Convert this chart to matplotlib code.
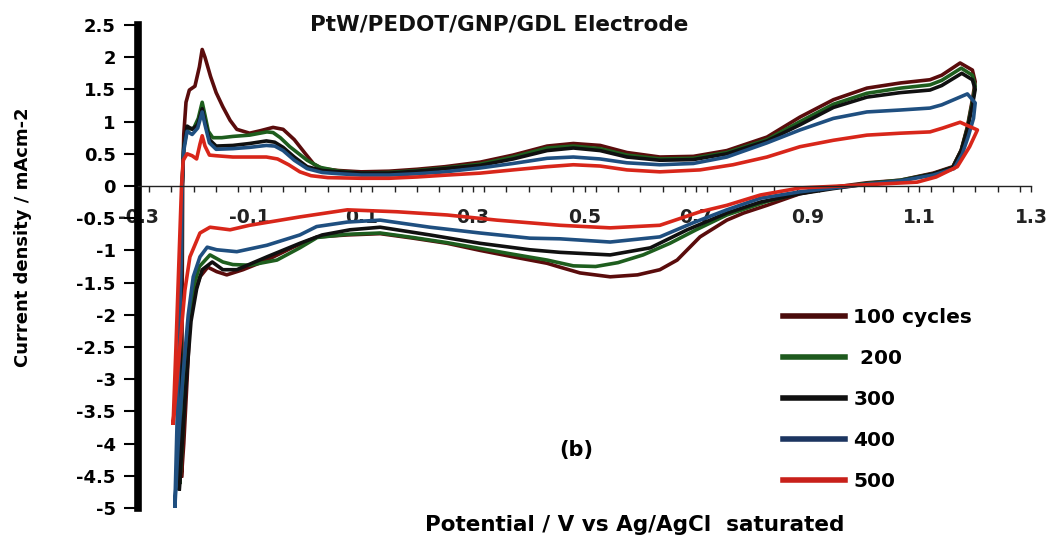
import matplotlib
matplotlib.use("Agg")
import matplotlib.pyplot as plt
from matplotlib.ticker import MultipleLocator, FixedLocator

plt.rcParams['font.family'] = ['DejaVu Sans']

# ---- data ----
labels = ["100 cycles", " 200", "300", "400", "500"]
colors = ["#5a0c0c", "#1e5e1e", "#101010", "#1f4f80", "#d8261a"]
legend_colors = ["#4a0b0b", "#1e5a1e", "#101010", "#1c3560", "#c8201a"]

x100 = [-0.222, -0.221, -0.220, -0.218, -0.214, -0.208, -0.198, -0.190, -0.185, -0.180, -0.170, -0.160,
        -0.148, -0.135, -0.123, -0.100, -0.080, -0.058, -0.040, -0.020, 0.000, 0.015, 0.030, 0.060, 0.100,
        0.150, 0.200, 0.250, 0.313, 0.372, 0.433, 0.480, 0.528, 0.576, 0.635, 0.695, 0.755, 0.827, 0.886,
        0.946, 1.006, 1.066, 1.119, 1.140, 1.173, 1.195, 1.200,
        1.195, 1.186, 1.175, 1.160, 1.125, 1.066, 1.006, 0.946, 0.886, 0.827, 0.785, 0.755, 0.707, 0.666,
        0.635, 0.595, 0.546, 0.492, 0.456, 0.433, 0.372, 0.313, 0.254, 0.193, 0.134, 0.075, 0.021, -0.022,
        -0.069, -0.112, -0.141, -0.159, -0.175, -0.189, -0.201, -0.207, -0.212, -0.218, -0.222]
y100 = [-4.50, -2.00, 0.00, 0.80, 1.30, 1.49, 1.55, 1.85, 2.12, 2.00, 1.70, 1.45,
        1.23, 1.02, 0.88, 0.82, 0.86, 0.91, 0.88, 0.72, 0.50, 0.34, 0.27, 0.24, 0.22,
        0.23, 0.26, 0.30, 0.37, 0.48, 0.62, 0.66, 0.63, 0.52, 0.45, 0.46, 0.55, 0.76, 1.07,
        1.34, 1.52, 1.60, 1.65, 1.72, 1.91, 1.80, 1.62,
        1.34, 0.92, 0.56, 0.30, 0.20, 0.09, 0.05, -0.02, -0.12, -0.30, -0.42, -0.53, -0.79, -1.15,
        -1.30, -1.38, -1.41, -1.35, -1.26, -1.20, -1.10, -1.00, -0.89, -0.81, -0.74, -0.76, -0.79, -0.95,
        -1.15, -1.30, -1.38, -1.33, -1.26, -1.41, -1.72, -2.08, -3.00, -4.00, -4.50]

x200 = [-0.225, -0.223, -0.221, -0.218, -0.212, -0.200, -0.192, -0.185, -0.180, -0.174, -0.166, -0.150,
        -0.130, -0.100, -0.069, -0.058, -0.045, -0.028, 0.003, 0.026, 0.060, 0.100, 0.150, 0.200, 0.250,
        0.313, 0.372, 0.433, 0.480, 0.528, 0.576, 0.635, 0.695, 0.755, 0.827, 0.886, 0.946, 1.006, 1.066,
        1.119, 1.140, 1.175, 1.195, 1.200,
        1.195, 1.186, 1.175, 1.160, 1.125, 1.066, 1.006, 0.946, 0.886, 0.827, 0.755, 0.700, 0.653, 0.605,
        0.560, 0.520, 0.480, 0.433, 0.372, 0.313, 0.254, 0.193, 0.134, 0.075, 0.021, -0.010, -0.051,
        -0.100, -0.130, -0.148, -0.171, -0.190, -0.200, -0.208, -0.215, -0.222, -0.225]
y200 = [-4.60, -2.00, 0.00, 0.60, 0.88, 0.90, 1.05, 1.30, 1.10, 0.85, 0.75, 0.75,
        0.77, 0.79, 0.84, 0.83, 0.75, 0.61, 0.40, 0.29, 0.23, 0.20, 0.21, 0.24, 0.28,
        0.34, 0.45, 0.59, 0.62, 0.58, 0.48, 0.42, 0.43, 0.52, 0.72, 1.00, 1.27, 1.44, 1.52,
        1.57, 1.64, 1.83, 1.72, 1.55,
        1.30, 0.90, 0.55, 0.29, 0.19, 0.09, 0.04, -0.03, -0.11, -0.24, -0.45, -0.68, -0.89, -1.07,
        -1.19, -1.25, -1.24, -1.15, -1.06, -0.97, -0.88, -0.80, -0.73, -0.75, -0.80, -0.96, -1.15,
        -1.23, -1.22, -1.18, -1.07, -1.25, -1.55, -2.00, -3.00, -4.20, -4.60]

x300 = [-0.226, -0.223, -0.221, -0.218, -0.212, -0.203, -0.193, -0.185, -0.180, -0.172, -0.160, -0.130,
        -0.100, -0.070, -0.055, -0.040, -0.020, 0.003, 0.030, 0.060, 0.100, 0.150, 0.200, 0.250, 0.313,
        0.372, 0.433, 0.480, 0.528, 0.576, 0.635, 0.695, 0.755, 0.827, 0.886, 0.946, 1.006, 1.066, 1.119,
        1.140, 1.176, 1.195, 1.200,
        1.195, 1.186, 1.175, 1.160, 1.125, 1.066, 1.006, 0.946, 0.886, 0.815, 0.755, 0.684, 0.618, 0.546,
        0.456, 0.402, 0.313, 0.223, 0.134, 0.080, 0.030, -0.010, -0.069, -0.123, -0.148, -0.167, -0.185,
        -0.195, -0.205, -0.215, -0.226]
y300 = [-4.70, -2.00, 0.00, 0.60, 0.93, 0.88, 0.95, 1.20, 1.00, 0.72, 0.62, 0.63,
        0.66, 0.70, 0.68, 0.60, 0.45, 0.30, 0.24, 0.22, 0.20, 0.20, 0.23, 0.27, 0.32,
        0.42, 0.55, 0.59, 0.55, 0.45, 0.40, 0.41, 0.50, 0.70, 0.95, 1.22, 1.38, 1.45, 1.49,
        1.56, 1.75, 1.65, 1.50,
        1.25, 0.88, 0.55, 0.29, 0.19, 0.08, 0.03, -0.04, -0.12, -0.25, -0.42, -0.68, -0.96, -1.07,
        -1.03, -0.99, -0.89, -0.76, -0.64, -0.68, -0.76, -0.89, -1.10, -1.30, -1.30, -1.18, -1.30,
        -1.60, -2.10, -3.20, -4.70]

x400 = [-0.234, -0.228, -0.222, -0.221, -0.218, -0.212, -0.203, -0.193, -0.185, -0.180, -0.172, -0.160,
        -0.130, -0.100, -0.070, -0.055, -0.040, -0.020, 0.003, 0.030, 0.060, 0.100, 0.150, 0.200, 0.250,
        0.313, 0.372, 0.433, 0.480, 0.528, 0.576, 0.635, 0.695, 0.755, 0.827, 0.886, 0.946, 1.006, 1.066,
        1.119, 1.140, 1.186, 1.200,
        1.197, 1.188, 1.177, 1.162, 1.125, 1.066, 1.006, 0.946, 0.886, 0.815, 0.755, 0.695, 0.635, 0.546,
        0.456, 0.402, 0.313, 0.223, 0.134, 0.075, 0.020, -0.010, -0.069, -0.123, -0.159, -0.176, -0.189,
        -0.201, -0.210, -0.220, -0.228, -0.234]
y400 = [-5.00, -3.00, -1.00, 0.00, 0.55, 0.85, 0.80, 0.90, 1.15, 0.95, 0.67, 0.57,
        0.58, 0.60, 0.63, 0.62, 0.55, 0.40, 0.27, 0.21, 0.19, 0.17, 0.17, 0.19, 0.22,
        0.28, 0.35, 0.43, 0.45, 0.42, 0.36, 0.33, 0.35, 0.45, 0.67, 0.87, 1.05, 1.15, 1.18,
        1.21, 1.26, 1.43, 1.29,
        1.05, 0.78, 0.50, 0.27, 0.17, 0.08, 0.03, -0.03, -0.09, -0.19, -0.37, -0.57, -0.79, -0.87,
        -0.82, -0.81, -0.73, -0.64, -0.53, -0.56, -0.63, -0.76, -0.92, -1.02, -0.99, -0.95, -1.10,
        -1.41, -2.00, -3.00, -4.00, -5.00]

x500 = [-0.237, -0.232, -0.226, -0.222, -0.219, -0.212, -0.203, -0.195, -0.189, -0.185, -0.180, -0.172,
        -0.160, -0.130, -0.100, -0.070, -0.050, -0.030, -0.010, 0.010, 0.040, 0.100, 0.150, 0.200, 0.254,
        0.313, 0.372, 0.433, 0.480, 0.528, 0.576, 0.635, 0.707, 0.766, 0.827, 0.886, 0.946, 1.006, 1.066,
        1.119, 1.142, 1.173, 1.204,
        1.190, 1.168, 1.130, 1.096, 1.006, 0.886, 0.815, 0.755, 0.707, 0.635, 0.546, 0.456, 0.343, 0.254,
        0.164, 0.075, -0.010, -0.100, -0.135, -0.171, -0.189, -0.207, -0.216, -0.225, -0.232, -0.237]
y500 = [-3.68, -2.50, -1.00, 0.00, 0.40, 0.50, 0.47, 0.42, 0.65, 0.78, 0.62, 0.48,
        0.47, 0.45, 0.45, 0.45, 0.42, 0.33, 0.22, 0.16, 0.13, 0.12, 0.12, 0.14, 0.17,
        0.20, 0.25, 0.30, 0.33, 0.31, 0.25, 0.22, 0.25, 0.33, 0.45, 0.61, 0.71, 0.79, 0.82,
        0.84, 0.90, 0.99, 0.87,
        0.61, 0.30, 0.14, 0.06, 0.02, -0.03, -0.14, -0.30, -0.40, -0.61, -0.65, -0.61, -0.53, -0.45,
        -0.40, -0.37, -0.48, -0.61, -0.68, -0.64, -0.73, -1.10, -1.62, -2.50, -3.20, -3.68]

xs = [x100, x200, x300, x400, x500]
ys = [y100, y200, y300, y400, y500]

x_ticks = [-0.3, -0.1, 0.1, 0.3, 0.5, 0.7, 0.9, 1.1, 1.3]
y_ticks = [-5, -4.5, -4, -3.5, -3, -2.5, -2, -1.5, -1, -0.5, 0, 0.5, 1, 1.5, 2, 2.5]

W, H = 1049, 540
fig = plt.figure(figsize=(W / 100, H / 100), dpi=100)
ax = fig.add_axes([138 / W, 1 - 508 / H, (1031 - 138) / W, (508 - 25) / H])

lines = []
for x, y, c, lab in zip(xs, ys, colors, labels):
    ln, = ax.plot(x, y, color=c, lw=2.6, solid_joinstyle='round', label=lab)
    lines.append(ln)

ax.set_xlim(-0.3, 1.3)
ax.set_ylim(-5, 2.5)

ax.spines['top'].set_visible(False)
ax.spines['right'].set_visible(False)
ax.spines['left'].set_linewidth(5.5)
ax.spines['left'].set_color('black')
ax.spines['bottom'].set_position(('data', 0))
ax.spines['bottom'].set_linewidth(1.0)
ax.spines['bottom'].set_color('#222222')

ax.xaxis.set_major_locator(FixedLocator(x_ticks))
ax.xaxis.set_minor_locator(MultipleLocator(0.04))
ax.set_xticklabels([f"{v:.1f}" for v in x_ticks])
ax.tick_params(axis='x', which='both', direction='out', length=4, width=1, color='#222222')
ax.tick_params(axis='x', which='major', pad=12, labelsize=13.5)
for t in ax.get_xticklabels():
    t.set_fontweight('bold')
    t.set_color('#222222')

ax.yaxis.set_major_locator(FixedLocator(y_ticks))
ax.set_yticklabels([f"{v:g}" for v in y_ticks])
ax.tick_params(axis='y', which='major', direction='out', length=10, width=1.5, pad=6, labelsize=13)
for t in ax.get_yticklabels():
    t.set_fontweight('bold')

fig.text(499 / W, 1 - 25 / H, "PtW/PEDOT/GNP/GDL Electrode", ha='center', va='center',
         fontsize=15.5, fontweight='bold', color='#111111')
fig.text(23 / W, 1 - 237 / H, "Current density / mAcm-2", ha='center', va='center',
         rotation=90, fontsize=13, fontweight='bold')
fig.text(635 / W, 1 - 525 / H, "Potential / V vs Ag/AgCl  saturated", ha='center', va='center',
         fontsize=15.5, fontweight='bold')
fig.text(576 / W, 1 - 450 / H, "(b)", ha='center', va='center', fontsize=15, fontweight='bold')

leg = ax.legend(handles=lines, loc='upper left', bbox_to_anchor=(783 / W, 1 - 308 / H),
                bbox_transform=fig.transFigure, frameon=False, prop={'weight': 'bold', 'size': 14.5},
                handlelength=3.1, handletextpad=0.4, labelspacing=1.09, borderpad=0, borderaxespad=0)
for l, c in zip(leg.get_lines(), legend_colors):
    l.set_linewidth(4)
    l.set_color(c)

fig.savefig("out.png", dpi=100)
